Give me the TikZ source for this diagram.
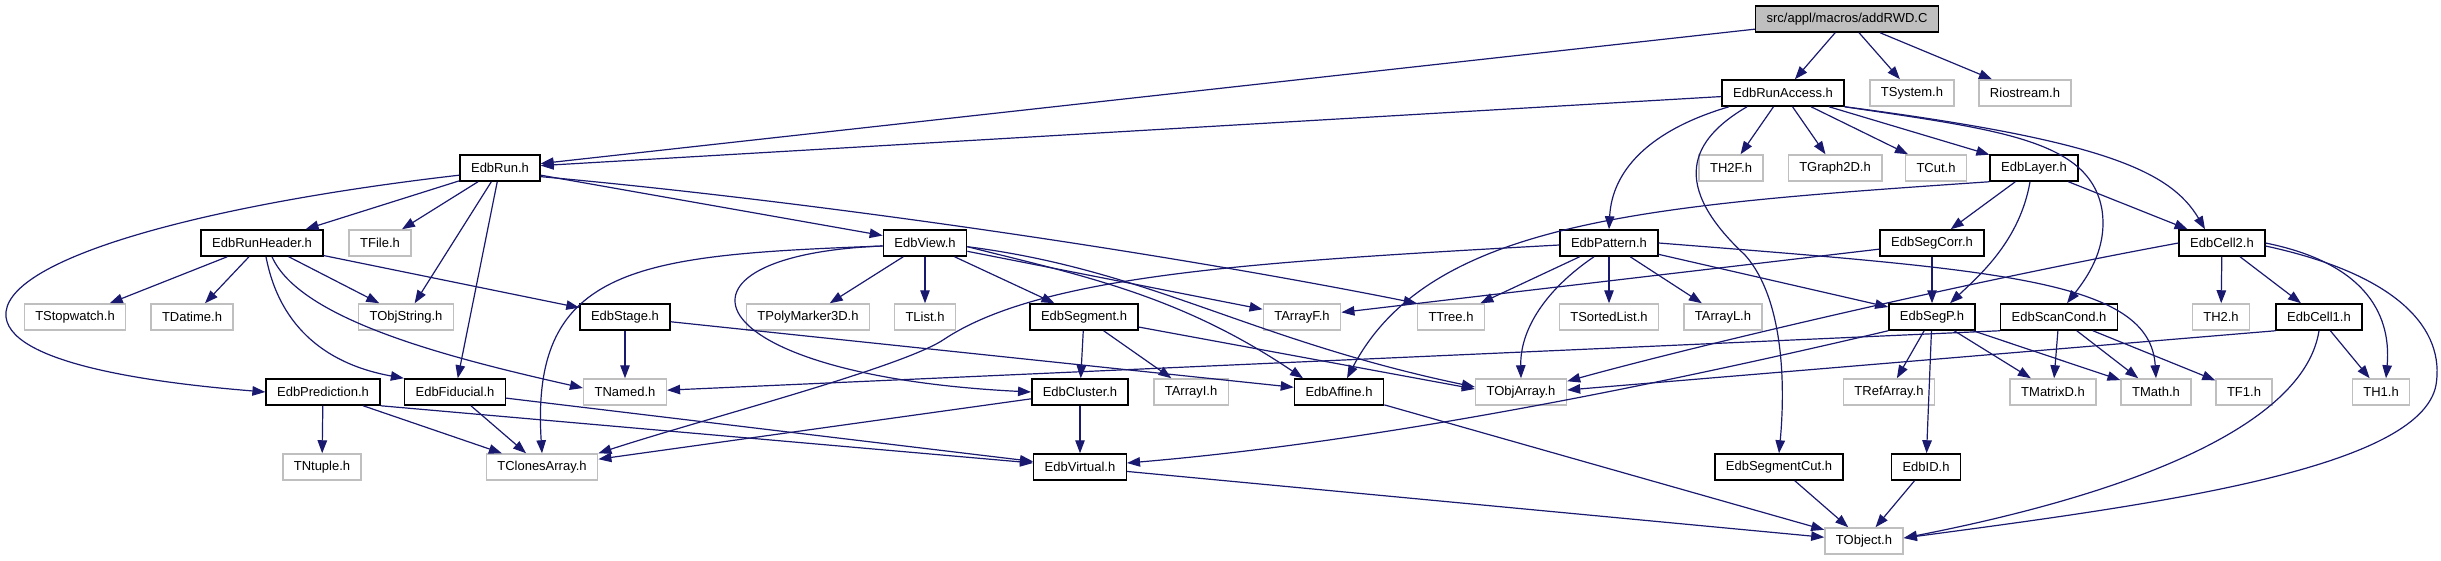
\documentclass[tikz,border=0pt]{standalone}
\usepackage{fontspec}
\setmainfont{Liberation Sans}
\usetikzlibrary{arrows.meta}
\definecolor{kante}{HTML}{191970}
\definecolor{grau}{HTML}{BFBFBF}

\begin{document}
\begin{tikzpicture}[x=1pt, y=-1pt,
        datei/.style={draw=black, line width=1.5pt, minimum height=26pt, inner xsep=11pt, inner ysep=0pt, font=\fontsize{13}{15}\selectfont},
        extern/.style={datei, draw=grau},
        wurzel/.style={datei, fill=grau},
        pfeil/.style={draw=kante, line width=1.2pt, -{Triangle[length=13pt,width=9.5pt]}}]
        \useasboundingbox (0,0) rectangle (2441,560);

        % Zeile 0 und 1
        \node [wurzel] (main) at (1847,19) {src/appl/macros/addRWD.C};
        \node [datei] (runacc) at (1783,93) {EdbRunAccess.h};
        \node [extern] (tsystem) at (1912,93) {TSystem.h};
        \node [extern] (riostream) at (2025,93) {Riostream.h};

        % Zeile 2
        \node [datei] (run) at (500,168) {EdbRun.h};
        \node [extern] (th2f) at (1731,168) {TH2F.h};
        \node [extern] (tgraph) at (1835,168) {TGraph2D.h};
        \node [extern] (tcut) at (1936,168) {TCut.h};
        \node [datei] (layer) at (2034,168) {EdbLayer.h};

        % Zeile 3
        \node [datei] (runheader) at (262,243) {EdbRunHeader.h};
        \node [extern] (tfile) at (380,243) {TFile.h};
        \node [datei] (view) at (925,243) {EdbView.h};
        \node [datei] (pattern) at (1609,243) {EdbPattern.h};
        \node [datei] (segcorr) at (1932,243) {EdbSegCorr.h};
        \node [datei] (cell2) at (2222,243) {EdbCell2.h};

        % Zeile 4
        \node [extern] (stopwatch) at (75,317) {TStopwatch.h};
        \node [extern] (datime) at (192,317) {TDatime.h};
        \node [extern] (objstring) at (406,317) {TObjString.h};
        \node [datei] (stage) at (625,317) {EdbStage.h};
        \node [extern] (polymarker) at (808,317) {TPolyMarker3D.h};
        \node [extern] (tlist) at (925,317) {TList.h};
        \node [datei] (segment) at (1084,317) {EdbSegment.h};
        \node [extern] (arrayf) at (1302,317) {TArrayF.h};
        \node [extern] (ttree) at (1451,317) {TTree.h};
        \node [extern] (sortedlist) at (1609,317) {TSortedList.h};
        \node [extern] (arrayl) at (1723,317) {TArrayL.h};
        \node [datei] (segp) at (1932,317) {EdbSegP.h};
        \node [datei] (scancond) at (2059,317) {EdbScanCond.h};
        \node [extern] (th2) at (2221,317) {TH2.h};
        \node [datei] (cell1) at (2319,317) {EdbCell1.h};

        % Zeile 5
        \node [datei] (prediction) at (323,392) {EdbPrediction.h};
        \node [datei] (fiducial) at (455,392) {EdbFiducial.h};
        \node [extern] (tnamed) at (625,392) {TNamed.h};
        \node [datei] (cluster) at (1080,392) {EdbCluster.h};
        \node [extern] (arrayi) at (1191,392) {TArrayI.h};
        \node [datei] (affine) at (1339,392) {EdbAffine.h};
        \node [extern] (objarray) at (1521,392) {TObjArray.h};
        \node [extern] (refarray) at (1889,392) {TRefArray.h};
        \node [extern] (matrixd) at (2053,392) {TMatrixD.h};
        \node [extern] (tmath) at (2156,392) {TMath.h};
        \node [extern] (tf1) at (2244,392) {TF1.h};
        \node [extern] (th1) at (2381,392) {TH1.h};

        % Zeile 6 und 7
        \node [extern] (ntuple) at (322,467) {TNtuple.h};
        \node [extern] (clones) at (542,467) {TClonesArray.h};
        \node [datei] (virtual) at (1080,467) {EdbVirtual.h};
        \node [datei] (segcut) at (1779,467) {EdbSegmentCut.h};
        \node [datei] (edbid) at (1926,467) {EdbID.h};
        \node [extern] (tobject) at (1864,541) {TObject.h};

        % gerade Kanten
        \foreach \von/\nach in {main/runacc, main/tsystem, main/riostream, main/run, runacc/run,
                runacc/th2f, runacc/tgraph, runacc/tcut, runacc/layer,
                run/runheader, run/tfile, run/objstring, run/fiducial, run/view,
                runheader/stopwatch, runheader/datime, runheader/objstring, runheader/stage,
                view/polymarker, view/tlist, view/segment, view/arrayf,
                layer/segcorr, layer/cell2, pattern/ttree, pattern/sortedlist, pattern/arrayl, pattern/segp,
                segcorr/arrayf, segcorr/segp, cell2/th2, cell2/cell1, stage/tnamed, stage/affine,
                segment/cluster, segment/arrayi, segp/refarray, segp/matrixd, segp/tmath, segp/edbid,
                scancond/matrixd, scancond/tmath, scancond/tf1, cell1/th1,
                prediction/ntuple, prediction/clones, fiducial/clones, fiducial/virtual,
                cluster/virtual, cluster/clones, affine/tobject, virtual/tobject, segcut/tobject, edbid/tobject}
        {
            \draw[pfeil] (\von) -- (\nach);
        }
        \draw[pfeil] (prediction.south east) -- ([yshift=4pt]virtual.west);
        \draw[pfeil] (segment) -- ([yshift=3pt]objarray.west);
        \draw[pfeil] (scancond.south west) -- (tnamed);
        \draw[pfeil] (cell1.south west) -- ([yshift=2pt]objarray.east);

        % gebogene Kanten
        \draw[pfeil] (run.-12) .. controls (800,200) and (1150,250) .. (ttree.north west);
        \draw[pfeil] (run.-170) .. controls (200,205) and (0,260) .. (6,317) .. controls (12,368) and (180,385) .. (prediction.west);
        \draw[pfeil] ([xshift=4pt]runheader.south) .. controls (280,330) and (330,365) .. (fiducial.north west);
        \draw[pfeil] ([xshift=10pt]runheader.south) .. controls (300,320) and (450,358) .. ([yshift=4pt]tnamed.west);
        \draw[pfeil] ([yshift=-3pt]view.west) .. controls (640,255) and (530,265) .. (clones.north);
        \draw[pfeil] ([yshift=-3pt]view.west) .. controls (650,255) and (690,375) .. (cluster.west);
        \draw[pfeil] (view.-5) .. controls (1080,275) and (1180,295) .. ([xshift=-36pt]affine.north);
        \draw[pfeil] (view.-5) .. controls (1150,270) and (1250,340) .. ([yshift=5pt]objarray.west);
        \draw[pfeil] ([yshift=-2pt]pattern.west) .. controls (1250,262) and (1040,275) .. (943,340) .. controls (900,368) and (700,420) .. (clones.north east);
        \draw[pfeil] ([xshift=-15pt]pattern.south) .. controls (1545,290) and (1520,330) .. (objarray.north);
        \draw[pfeil] (pattern.east) .. controls (2000,270) and (2150,280) .. (tmath.north);
        \draw[pfeil] (layer.south west) .. controls (1650,205) and (1430,220) .. ([xshift=8pt]affine.north);
        \draw[pfeil] ([xshift=-4pt]layer.south) .. controls (2020,240) and (1980,275) .. ([xshift=18pt]segp.north);
        \draw[pfeil] ([xshift=-54pt]runacc.south) .. controls (1650,130) and (1612,170) .. (pattern.north);
        \draw[pfeil] ([xshift=-36pt]runacc.south) .. controls (1690,140) and (1670,185) .. (1745,255) .. controls (1785,300) and (1785,390) .. (segcut.north);
        \draw[pfeil] (runacc.south east) .. controls (2000,130) and (2090,140) .. (2102,210) .. controls (2108,250) and (2085,280) .. ([xshift=8pt]scancond.north);
        \draw[pfeil] (runacc.south east) .. controls (2100,140) and (2170,170) .. ([xshift=-17pt]cell2.north);
        \draw[pfeil] (segp.south west) .. controls (1700,375) and (1400,440) .. ([yshift=4pt]virtual.east);
        \draw[pfeil] (cell2.west) .. controls (1950,285) and (1680,350) .. ([yshift=-3pt]objarray.north east);
        \draw[pfeil] (cell2.east) .. controls (2360,262) and (2392,310) .. ([xshift=5pt]th1.north);
        \draw[pfeil] ([yshift=-3pt]cell2.east) .. controls (2400,275) and (2445,330) .. (2436,385) .. controls (2420,470) and (2150,505) .. ([yshift=3pt]tobject.east);
        \draw[pfeil] (cell1.south) .. controls (2305,420) and (2150,490) .. ([yshift=3pt]tobject.east);
\end{tikzpicture}
\end{document}
